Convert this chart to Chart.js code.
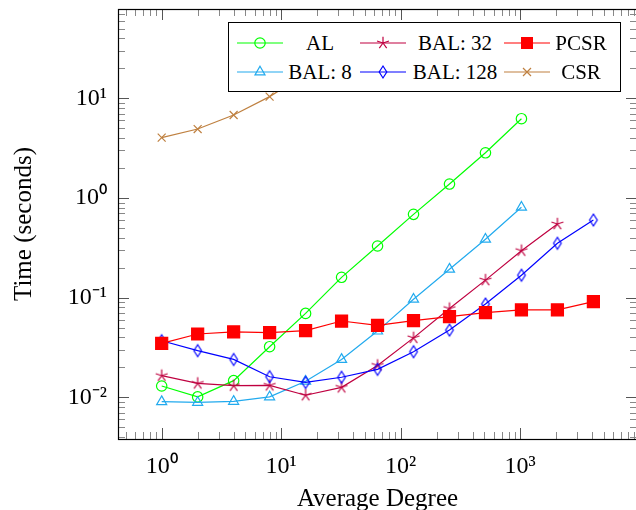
<!DOCTYPE html>
<html><head><meta charset="utf-8">
<script src="https://cdn.jsdelivr.net/npm/chart.js@4.4.1/dist/chart.umd.min.js"></script>
<style>
html,body{margin:0;padding:0;background:#fff;overflow:hidden;width:636px;height:510px;}
#wrap{position:relative;width:640px;height:510px;}
#c{display:block;}
#legend{position:absolute;left:228px;top:22px;width:391px;height:68px;border:1px solid #000;background:#fff;
 font-family:'Liberation Serif','Times New Roman',serif;font-size:21px;color:#000;}
.mk{position:absolute;width:46px;height:20px;}
.tx{position:absolute;width:110px;height:24px;line-height:24px;text-align:center;white-space:nowrap;}
</style></head>
<body><div id="wrap"><canvas id="c" width="640" height="510"></canvas><div id="legend"></div></div>
<script>
// ---- data ----
const degrees = [1, 2, 4, 8, 16, 32, 64, 128, 256, 512, 1024, 2048, 4096];
const alTimes = [0.0130, 0.0101, 0.0147, 0.0322, 0.0695, 0.160, 0.330, 0.685, 1.38, 2.84, 6.24];
const bal8Times = [0.00904, 0.0089, 0.0091, 0.0101, 0.0145, 0.024, 0.0462, 0.0964, 0.193, 0.385, 0.807];
const bal32Times = [0.0165, 0.0138, 0.0131, 0.0132, 0.0105, 0.0126, 0.0209, 0.0395, 0.0777, 0.150, 0.296, 0.548];
const bal128Times = [0.037, 0.0294, 0.0240, 0.0161, 0.0141, 0.0159, 0.0191, 0.0287, 0.0473, 0.0863, 0.168, 0.351, 0.601];
const pcsrTimes = [0.0348, 0.0432, 0.0453, 0.0446, 0.0467, 0.0583, 0.0528, 0.0589, 0.0646, 0.0708, 0.0753, 0.0753, 0.0912];
const csrTimes = [4.03, 4.92, 6.8, 10.4, 17.5, 33];
const seriesLabels = ['AL', 'BAL: 8', 'BAL: 32', 'BAL: 128', 'PCSR', 'CSR'];
const xTickValues = [1, 10, 100, 1000];
const xTickLabels = ['10\u2070', '10\u00B9', '10\u00B2', '10\u00B3'];
const yTickValues = [0.01, 0.1, 1, 10];
const yTickLabels = ['10\u207B\u00B2', '10\u207B\u00B9', '10\u2070', '10\u00B9'];
const xTitle = 'Average Degree';
const yTitle = 'Time (seconds)';

// ---- styles ----
const FONT = "'Liberation Serif','Times New Roman',serif";
const colors = ['#00ff00', '#22aaee', '#bf0040', '#0000ff', '#ff0000', '#bf8040'];

function makeStar(color){
  const c = document.createElement('canvas'); c.width = 16; c.height = 16;
  const g = c.getContext('2d'); g.strokeStyle = color; g.lineWidth = 1.2; g.beginPath();
  for (let k = 0; k < 5; k++){ const a = -Math.PI/2 + k*2*Math.PI/5; g.moveTo(8,8); g.lineTo(8+6.3*Math.cos(a), 8+6.3*Math.sin(a)); }
  g.stroke(); return c;
}
function makeDiamond(color){
  const c = document.createElement('canvas'); c.width = 12; c.height = 16;
  const g = c.getContext('2d'); g.strokeStyle = color; g.lineWidth = 1.2; g.beginPath();
  g.moveTo(6,2); g.lineTo(9.8,8); g.lineTo(6,14); g.lineTo(2.2,8); g.closePath(); g.stroke(); return c;
}
function pts(arr){ return arr.map((v,i)=>({x: degrees[i], y: v})); }

const styles = [
  {pointStyle:'circle', pointRadius:5.2, fill:false},
  {pointStyle:'triangle', pointRadius:5.8, fill:false},
  {pointStyle:makeStar(colors[2]), pointRadius:6, fill:false},
  {pointStyle:makeDiamond(colors[3]), pointRadius:6, fill:false},
  {pointStyle:'rect', pointRadius:8.5, fill:true},
  {pointStyle:'crossRot', pointRadius:5.6, fill:false}
];
const allData = [alTimes, bal8Times, bal32Times, bal128Times, pcsrTimes, csrTimes];
const datasets = allData.map((arr,i)=>({
  label: seriesLabels[i], data: pts(arr),
  borderColor: colors[i], backgroundColor: colors[i], borderWidth: 1.2,
  pointStyle: styles[i].pointStyle, pointRadius: styles[i].pointRadius, pointHoverRadius: styles[i].pointRadius,
  pointBorderColor: colors[i], pointBorderWidth: 1.2,
  pointBackgroundColor: styles[i].fill ? colors[i] : 'rgba(0,0,0,0)',
  tension: 0, order: 6 - i
}));

function lab(vals, labels, v){ const i = vals.findIndex(t => Math.abs(Math.log10(t) - Math.log10(v)) < 1e-6); return i >= 0 ? labels[i] : ''; }

const frameTicks = {
  id: 'frameTicks',
  afterDatasetsDraw(chart){
    const {ctx, chartArea: ca, scales: {x, y}} = chart;
    ctx.save();
    ctx.lineWidth = 1;
    for (let n = -3; n <= 4; n++){
      for (let m = 1; m <= 9; m++){
        const v = m * Math.pow(10, n);
        const len = m === 1 ? 11 : 7;
        ctx.strokeStyle = m === 1 ? '#555' : '#888';
        if (v >= x.min && v <= x.max){
          const px = Math.round(x.getPixelForValue(v)) + 0.5;
          ctx.beginPath(); ctx.moveTo(px, ca.bottom); ctx.lineTo(px, ca.bottom - len);
          ctx.moveTo(px, ca.top); ctx.lineTo(px, ca.top + len); ctx.stroke();
        }
        if (v >= y.min && v <= y.max){
          const py = Math.round(y.getPixelForValue(v)) + 0.5;
          ctx.beginPath(); ctx.moveTo(ca.left, py); ctx.lineTo(ca.left + len, py);
          ctx.moveTo(ca.right, py); ctx.lineTo(ca.right - len, py); ctx.stroke();
        }
      }
    }
    ctx.strokeStyle = '#000'; ctx.lineWidth = 1.2;
    ctx.strokeRect(ca.left + 0.5, ca.top + 0.5, ca.right - ca.left, ca.bottom - ca.top);
    ctx.restore();
  }
};

new Chart(document.getElementById('c'), {
  type: 'line',
  data: {datasets},
  options: {
    responsive: false, animation: false, devicePixelRatio: 1, events: [],
    layout: {autoPadding: false, padding: {top: 9, right: 3, left: 0, bottom: 0}},
    plugins: {legend: {display: false}, tooltip: {enabled: false}},
    scales: {
      x: {
        type: 'logarithmic', position: 'bottom', min: 0.431, max: 9490,
        afterBuildTicks: s => { s.ticks = xTickValues.map(v => ({value: v})); },
        afterFit: s => { s.height = 71; s.paddingLeft = 0; s.paddingRight = 0; s.paddingTop = 0; s.paddingBottom = 0; },
        grid: {display: false, drawTicks: false}, border: {display: false},
        ticks: {callback: v => lab(xTickValues, xTickLabels, v), color: '#000', font: {family: FONT, size: 24}, padding: 13, maxRotation: 0, autoSkip: false},
        title: {display: true, text: xTitle, color: '#000', font: {family: FONT, size: 25, lineHeight: 1}, padding: {top: 0, bottom: -2}}
      },
      y: {
        type: 'logarithmic', position: 'left', min: 0.00382, max: 78.7,
        afterBuildTicks: s => { s.ticks = yTickValues.map(v => ({value: v})); },
        afterFit: s => { s.width = 118; s.paddingLeft = 0; s.paddingRight = 0; s.paddingTop = 0; s.paddingBottom = 0; },
        grid: {display: false, drawTicks: false}, border: {display: false},
        ticks: {callback: v => lab(yTickValues, yTickLabels, v), color: '#000', font: {family: FONT, size: 24}, padding: 11, autoSkip: false},
        title: {display: true, text: yTitle, color: '#000', font: {family: FONT, size: 25, lineHeight: 1}, padding: {top: 12, bottom: 0}}
      }
    }
  },
  plugins: [frameTicks]
});

// ---- legend (HTML overlay, like the in-plot pgfplots legend) ----
function markerSvg(i){
  const c = colors[i]; let m = '';
  if (i === 0) m = `<circle cx="23" cy="10" r="5.2" fill="none" stroke="${c}" stroke-width="1.2"/>`;
  if (i === 1) m = `<polygon points="23,4.2 28,12.9 18,12.9" fill="none" stroke="${c}" stroke-width="1.2"/>`;
  if (i === 2){ let d=''; for (let k=0;k<5;k++){const a=-Math.PI/2+k*2*Math.PI/5; d+=`M23 10 L${(23+6.3*Math.cos(a)).toFixed(2)} ${(10+6.3*Math.sin(a)).toFixed(2)} `;} m = `<path d="${d}" stroke="${c}" stroke-width="1.2" fill="none"/>`; }
  if (i === 3) m = `<polygon points="23,4 26.8,10 23,16 19.2,10" fill="none" stroke="${c}" stroke-width="1.2"/>`;
  if (i === 4) m = `<rect x="17" y="4" width="12" height="12" fill="${c}"/>`;
  if (i === 5) m = `<path d="M19 6 L27 14 M19 14 L27 6" stroke="${c}" stroke-width="1.2" fill="none"/>`;
  return `<svg width="46" height="20" xmlns="http://www.w3.org/2000/svg"><line x1="0" y1="10" x2="46" y2="10" stroke="${c}" stroke-width="1.2"/>${m}</svg>`;
}
const legend = document.getElementById('legend');
const colLine = [236.7, 360, 504], colText = [320, 455, 581], rowY = [42.7, 71.7];
const OX = 229, OY = 23;
seriesLabels.forEach((name, i) => {
  const col = Math.floor(i / 2), row = i % 2;
  const mk = document.createElement('div'); mk.className = 'mk';
  mk.style.left = (colLine[col] - OX) + 'px'; mk.style.top = (rowY[row] - 10 - OY) + 'px';
  mk.innerHTML = markerSvg(i); legend.appendChild(mk);
  const tx = document.createElement('div'); tx.className = 'tx';
  tx.style.left = (colText[col] - 55 - OX) + 'px'; tx.style.top = (rowY[row] - 12 - OY) + 'px';
  tx.textContent = name; legend.appendChild(tx);
});
</script>
</body></html>
